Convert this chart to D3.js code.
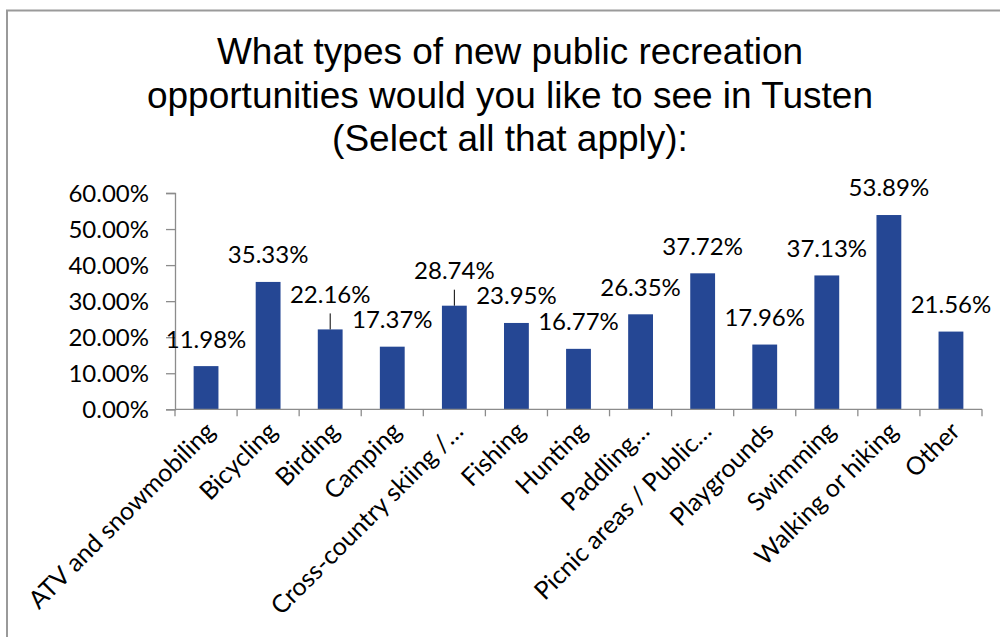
<!DOCTYPE html>
<html>
<head>
<meta charset="utf-8">
<script src="https://cdn.jsdelivr.net/npm/d3@7"></script>
<style>
  html, body { margin: 0; padding: 0; background: #fff; }
  svg { display: block; }
</style>
</head>
<body>
<svg id="chart" width="1000" height="637"></svg>
<script>
// ---- data ----
const categories = [
  "ATV and snowmobiling", "Bicycling", "Birding", "Camping",
  "Cross-country skiing /\u2026", "Fishing", "Hunting", "Paddling\u2026",
  "Picnic areas / Public\u2026", "Playgrounds", "Swimming", "Walking or hiking", "Other"
];
const values = [11.98, 35.33, 22.16, 17.37, 28.74, 23.95, 16.77, 26.35, 37.72, 17.96, 37.13, 53.89, 21.56];
const yTicks = [0, 10, 20, 30, 40, 50, 60];
const titleLines = [
  "What types of new public recreation",
  "opportunities would you like to see in Tusten",
  "(Select all that apply):"
];
// labels drawn with a leader line (Excel moved these)
const leaderCategories = ["Birding", "Cross-country skiing /\u2026"];

// ---- layout ----
const svg = d3.select("#chart");
const plot = { left: 175, right: 982, top: 193, bottom: 409.3 };
const barColor = "#254794";
const axisColor = "#8c8c8c";
const labelFont = "Lato, 'Open Sans', sans-serif";

// border (top and left visible)
svg.append("path")
  .attr("d", "M7,1000 L7,10.5 L1000,10.5")
  .attr("fill", "none").attr("stroke", "#9a9a9a").attr("stroke-width", 2);

// title
const title = svg.append("text")
  .attr("font-family", "'Liberation Sans', Arial, sans-serif")
  .attr("font-size", 37)
  .attr("fill", "#000")
  .attr("text-anchor", "middle");
titleLines.forEach((t, i) => {
  title.append("tspan").attr("x", 510).attr("y", 64 + i * 43.5).text(t);
});

const x = d3.scaleBand()
  .domain(categories)
  .range([plot.left, plot.right])
  .paddingInner(0.6)
  .paddingOuter(0.3);

const y = d3.scaleLinear()
  .domain([0, 60])
  .range([plot.bottom, plot.top]);

// bars
svg.append("g").selectAll("rect")
  .data(categories)
  .join("rect")
  .attr("x", (d) => x(d))
  .attr("y", (d, i) => y(values[i]))
  .attr("width", x.bandwidth())
  .attr("height", (d, i) => y(0) - y(values[i]))
  .attr("fill", barColor);

// y axis
const yAxis = svg.append("g")
  .attr("transform", `translate(${plot.left},0)`)
  .call(d3.axisLeft(y).tickValues(yTicks).tickSize(9).tickPadding(17)
    .tickFormat((d) => d.toFixed(2) + "%"));
yAxis.select(".domain").attr("stroke", axisColor).attr("stroke-width", 1.3);
yAxis.selectAll(".tick line").attr("stroke", axisColor).attr("stroke-width", 1.3);
yAxis.selectAll(".tick text")
  .attr("font-family", labelFont).attr("font-size", 24).attr("fill", "#000")
  .attr("dy", "0.35em");

// x axis with ticks at band boundaries
const xAxisG = svg.append("g").attr("transform", `translate(0,${plot.bottom})`);
xAxisG.append("line")
  .attr("x1", plot.left).attr("x2", plot.right)
  .attr("stroke", axisColor).attr("stroke-width", 1.3);
const step = x.step();
const boundaries = d3.range(categories.length + 1).map((i) => plot.left + i * step);
xAxisG.selectAll("line.tk")
  .data(boundaries)
  .join("line").attr("class", "tk")
  .attr("x1", (d) => d).attr("x2", (d) => d)
  .attr("y1", 0).attr("y2", 7)
  .attr("stroke", axisColor).attr("stroke-width", 1.3);

// category labels rotated -45
xAxisG.selectAll("text.cat")
  .data(categories)
  .join("text").attr("class", "cat")
  .attr("transform", (d) => `translate(${x(d) + x.bandwidth() / 2 + 6},${19}) rotate(-45)`)
  .attr("text-anchor", "end")
  .attr("dominant-baseline", "middle")
  .attr("font-family", labelFont).attr("font-size", 25).attr("fill", "#000")
  .text((d) => d);

// data labels
const lbl = svg.append("g");
categories.forEach((c, i) => {
  const cx = x(c) + x.bandwidth() / 2;
  const top = y(values[i]);
  const hasLeader = leaderCategories.includes(c);
  const lift = hasLeader ? 35 : 27;
  if (hasLeader) {
    lbl.append("line")
      .attr("x1", cx).attr("x2", cx)
      .attr("y1", top).attr("y2", top - 16)
      .attr("stroke", "#000").attr("stroke-width", 1);
  }
  lbl.append("text")
    .attr("x", cx)
    .attr("y", top - lift)
    .attr("dy", "0.35em")
    .attr("text-anchor", "middle")
    .attr("font-family", labelFont).attr("font-size", 24).attr("fill", "#000")
    .text(values[i].toFixed(2) + "%");
});
</script>
</body>
</html>
